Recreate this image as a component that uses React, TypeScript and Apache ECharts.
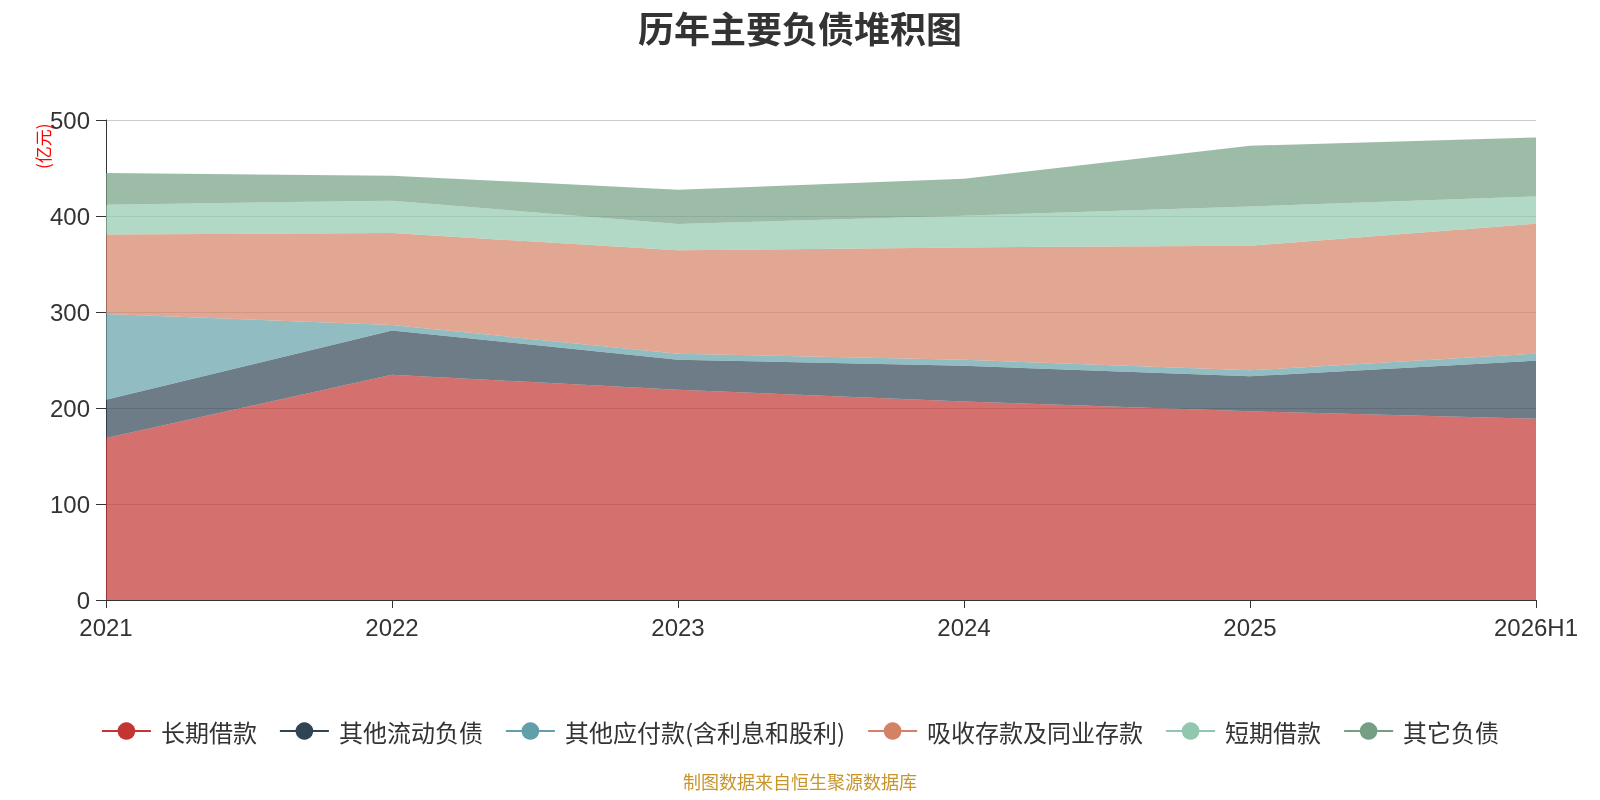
import { useEffect, useRef } from "react";
import * as echarts from "echarts";

const years = ["2021", "2022", "2023", "2024", "2025", "2026H1"];

// 单位：亿元
const longTermLoans = [168.8, 234.7, 219.0, 206.9, 196.5, 188.9];
const otherCurrentLiab = [39.8, 46.1, 31.3, 37.1, 36.5, 60.4];
const otherPayables = [89.3, 5.6, 6.3, 6.3, 6.2, 7.3];
const deposits = [82.9, 95.9, 107.6, 117.0, 129.8, 135.4];
const shortTermLoans = [31.0, 33.7, 27.4, 33.0, 41.0, 28.4];
const otherLiab = [33.0, 26.0, 35.8, 38.6, 63.2, 61.5];

const seriesNames = [
  "长期借款",
  "其他流动负债",
  "其他应付款(含利息和股利)",
  "吸收存款及同业存款",
  "短期借款",
  "其它负债",
];
const seriesData = [longTermLoans, otherCurrentLiab, otherPayables, deposits, shortTermLoans, otherLiab];
const colors = ["#c23531", "#2f4554", "#61a0a8", "#d48265", "#91c7ae", "#749f83"];

const FONT = "'Noto Sans CJK SC', 'Noto Sans', sans-serif";
const AXIS_FONT = "'Liberation Sans', 'Noto Sans CJK SC', sans-serif";

export default function App() {
  const chartRef = useRef<HTMLDivElement>(null);

  useEffect(() => {
    if (!chartRef.current) return;
    const chart = echarts.init(chartRef.current, null, { renderer: "svg" });

    const option: echarts.EChartsOption = {
      animation: false,
      color: colors,
      textStyle: { fontFamily: FONT },
      title: {
        text: "历年主要负债堆积图",
        left: "center",
        top: 4,
        textStyle: { fontSize: 36, fontWeight: "bold", color: "#333", fontFamily: FONT },
      },
      legend: {
        bottom: 52,
        left: "center",
        itemWidth: 49,
        itemHeight: 22,
        itemGap: 22,
        lineStyle: { width: 2 },
        textStyle: { fontSize: 24, color: "#333", padding: [0, 0, 0, 5], fontFamily: FONT },
        data: seriesNames,
      },
      grid: { left: 106, right: 64, top: 120, bottom: 200 },
      xAxis: {
        type: "category",
        boundaryGap: false,
        data: years,
        axisLine: { lineStyle: { color: "#333" } },
        axisTick: { length: 8, lineStyle: { color: "#333" } },
        axisLabel: { fontSize: 24, color: "#333", margin: 15, fontFamily: AXIS_FONT },
      },
      yAxis: {
        type: "value",
        min: 0,
        max: 500,
        interval: 100,
        axisLine: { show: true, lineStyle: { color: "#333" } },
        axisTick: { show: true, length: 10, lineStyle: { color: "#333" } },
        axisLabel: { fontSize: 24, color: "#333", margin: 16, fontFamily: AXIS_FONT },
        splitLine: { lineStyle: { color: "#ccc" } },
      },
      graphic: [
        {
          type: "text",
          x: 34,
          y: 169,
          rotation: Math.PI / 2,
          style: { text: "(亿元)", fill: "#ff0000", fontSize: 17, fontFamily: FONT },
        },
        {
          type: "text",
          left: "center",
          top: 772,
          style: { text: "制图数据来自恒生聚源数据库", fill: "#c9952b", fontSize: 18, fontFamily: FONT },
        },
      ],
      series: seriesNames.map((name, i) => ({
        name,
        type: "line" as const,
        stack: "total",
        data: seriesData[i],
        showSymbol: false,
        symbol: "circle",
        lineStyle: { width: 0 },
        areaStyle: { opacity: 0.7 },
      })),
    };

    chart.setOption(option);
    return () => chart.dispose();
  }, []);

  return (
    <div
      ref={chartRef}
      style={{ position: "fixed", left: 0, top: 0, width: 1600, height: 800 }}
    />
  );
}
